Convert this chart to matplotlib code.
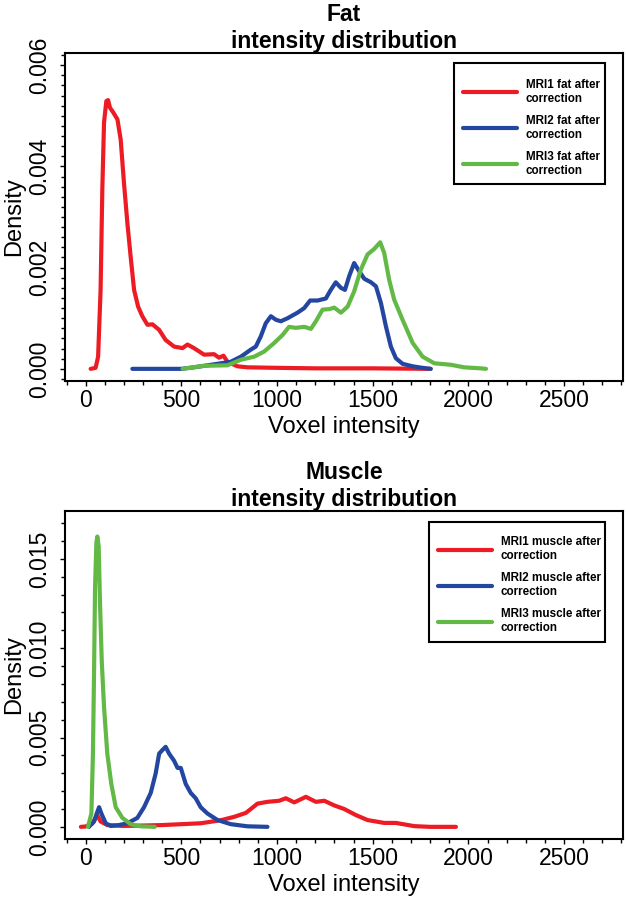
import matplotlib

matplotlib.use("Agg")
import matplotlib.pyplot as plt
from matplotlib.patches import Rectangle
from matplotlib.ticker import MultipleLocator, FormatStrFormatter

plt.rcParams["font.family"] = ["Liberation Sans", "DejaVu Sans"]

# colours used for MRI1 / MRI2 / MRI3
COLORS = ["#ED1C24", "#2346A0", "#62B946"]

# ---- fat ----
fat1_x = [26, 52, 65, 78, 87, 96, 108, 117, 127, 145, 166, 183, 200, 218, 235,
          253, 274, 296, 323, 349, 384, 418, 462, 506, 532, 566, 619, 671, 697,
          720, 741, 793, 846, 1000, 1200, 1500, 1800]
fat1_y = [0, 0.00002, 0.00024, 0.00156, 0.00354, 0.00487, 0.00529, 0.00531,
          0.00516, 0.00506, 0.00493, 0.00453, 0.00368, 0.00288, 0.00222,
          0.00156, 0.00123, 0.00104, 0.00087, 0.00088, 0.00077, 0.00057,
          0.00044, 0.00041, 0.00048, 0.00041, 0.00028, 0.00029, 0.00022,
          0.00026, 0.00014, 0.00005, 0.00003, 0.00002, 0.00001, 0.00001, 0.0]

fat2_x = [244, 500, 566, 620, 689, 758, 811, 863, 889, 915, 941, 968, 994, 1020,
          1055, 1107, 1142, 1173, 1212, 1255, 1281, 1307, 1334, 1355, 1377,
          1403, 1429, 1456, 1491, 1517, 1543, 1569, 1595, 1621, 1656, 1709,
          1760, 1804]
fat2_y = [0, 0, 0.00003, 0.00006, 0.0001, 0.00014, 0.00024, 0.00038, 0.00044,
          0.00064, 0.0009, 0.00104, 0.00097, 0.00094, 0.001, 0.00111, 0.0012,
          0.00135, 0.00135, 0.00139, 0.00156, 0.00171, 0.0016, 0.00156,
          0.00183, 0.00209, 0.00193, 0.00178, 0.00171, 0.00163, 0.0013,
          0.00084, 0.00044, 0.00021, 0.0001, 0.00005, 0.00002, 0.0]

fat3_x = [506, 560, 619, 741, 811, 880, 932, 985, 1029, 1063, 1098, 1142, 1177,
          1203, 1238, 1273, 1299, 1334, 1369, 1403, 1438, 1473, 1508, 1539,
          1560, 1586, 1612, 1656, 1709, 1761, 1822, 1909, 1978, 2065, 2092]
fat3_y = [0, 0.00003, 0.00006, 0.00007, 0.00018, 0.00024, 0.00034, 0.00051,
          0.00067, 0.00083, 0.00081, 0.00083, 0.00079, 0.00094, 0.00117,
          0.00118, 0.00121, 0.00111, 0.00123, 0.00153, 0.00196, 0.00226,
          0.00237, 0.0025, 0.00229, 0.00176, 0.00137, 0.00097, 0.00051,
          0.00024, 0.00011, 0.00008, 0.00003, 0.00001, 0]

# ---- muscle ----
mus1_x = [-25, 0, 35, 61, 78, 113, 200, 400, 500, 601, 706, 776, 837, 863, 898,
          950, 1011, 1046, 1090, 1151, 1203, 1247, 1299, 1351, 1412, 1473,
          1560, 1621, 1717, 1800, 1935]
mus1_y = [0, 0.00002, 0.0002, 0.00065, 0.0003, 0.0001, 0.00005, 0.0001,
          0.00015, 0.0002, 0.00037, 0.00056, 0.00078, 0.001, 0.0013, 0.0014,
          0.00146, 0.0016, 0.00137, 0.00168, 0.0014, 0.00146, 0.0012, 0.001,
          0.00066, 0.00038, 0.00022, 0.00022, 0.00004, 0.0, 0.0]

mus2_x = [17, 44, 58, 70, 82, 105, 131, 174, 218, 270, 305, 340, 366, 384, 401,
          418, 436, 462, 480, 497, 523, 549, 575, 601, 636, 689, 758, 846, 950]
mus2_y = [0, 0.0003, 0.00075, 0.0011, 0.00075, 0.0002, 0.00005, 0.0001, 0.0002,
          0.0005, 0.0011, 0.0019, 0.003, 0.0041, 0.0043, 0.00448, 0.0041,
          0.0037, 0.0033, 0.0033, 0.0024, 0.0019, 0.0016, 0.0011, 0.00075,
          0.00038, 0.00015, 0.00003, 0]

mus3_x = [12, 30, 38, 44, 49, 56, 61, 68, 75, 84, 96, 113, 134, 157, 192, 235,
          288, 361]
mus3_y = [0, 0.00075, 0.0041, 0.0088, 0.0134, 0.0159, 0.01625, 0.0157, 0.0125,
          0.0093, 0.0067, 0.0041, 0.0024, 0.0011, 0.0005, 0.00015, 0.00003, 0]

fat_labels = ["MRI1 fat after\ncorrection", "MRI2 fat after\ncorrection",
              "MRI3 fat after\ncorrection"]
mus_labels = ["MRI1 muscle after\ncorrection", "MRI2 muscle after\ncorrection",
              "MRI3 muscle after\ncorrection"]

x_ticks = [0, 500, 1000, 1500, 2000, 2500]


def r_lim(lo, hi):
    # R style 4% padding on each side
    d = (hi - lo) * 0.04
    return lo - d, hi + d


def draw_panel(ax, series, labels, title, ymax, ystep, yminor, box, leg_xy):
    for (xs, ys), lab, col in zip(series, labels, COLORS):
        ax.plot(xs, ys, color=col, lw=3, label=lab, solid_capstyle="round",
                solid_joinstyle="round")

    ax.set_xlim(*r_lim(0, 2700))
    ax.set_ylim(*r_lim(0, ymax))
    ax.set_xticks(x_ticks)
    n = int(round(ymax / ystep + 1e-9))
    ax.set_yticks([i * ystep for i in range(n + 1) if i * ystep <= ymax + 1e-12])
    ax.yaxis.set_major_formatter(FormatStrFormatter("%.3f"))
    ax.xaxis.set_minor_locator(MultipleLocator(100))
    ax.yaxis.set_minor_locator(MultipleLocator(yminor))

    ax.tick_params(which="both", direction="out", width=1, labelsize=16.5)
    ax.tick_params(which="major", length=3.5)
    ax.tick_params(which="minor", length=3)
    ax.tick_params(axis="x", pad=2)
    ax.tick_params(axis="y", pad=6.5, labelrotation=90)
    for lab in ax.get_yticklabels():
        lab.set_verticalalignment("center")

    for sp in ax.spines.values():
        sp.set_linewidth(1.5)

    ax.set_xlabel("Voxel intensity", fontsize=17, labelpad=3)
    ax.set_ylabel("Density", fontsize=17)
    ax.yaxis.set_label_coords(-0.072, 0.5)
    ax.set_title(title, fontsize=16.5, fontweight="bold", pad=3,
                 linespacing=1.2)

    # legend box (drawn separately so the padding can match the original)
    x0, y0, x1, y1 = box
    ax.add_patch(Rectangle((x0, y0), x1 - x0, y1 - y0, transform=ax.transAxes,
                           fill=True, facecolor="white", edgecolor="black",
                           lw=1.5, zorder=4))
    leg = ax.legend(loc="center left", bbox_to_anchor=leg_xy,
                    prop={"weight": "bold", "size": 8.4}, frameon=False,
                    handlelength=4.62, handletextpad=0.75, borderpad=0,
                    labelspacing=0.88, borderaxespad=0)
    leg.set_zorder(5)
    for h in leg.get_lines():
        h.set_linewidth(3)


fig = plt.figure(figsize=(6.26, 9), dpi=100)
ax1 = fig.add_axes([65 / 626, 1 - 381 / 900, 558 / 626, 328 / 900])
ax2 = fig.add_axes([65 / 626, 1 - 839 / 900, 558 / 626, 328 / 900])

draw_panel(ax1, [(fat1_x, fat1_y), (fat2_x, fat2_y), (fat3_x, fat3_y)],
           fat_labels, "Fat\nintensity distribution", 0.006, 0.002, 0.0002,
           (0.6971, 0.5997, 0.9686, 0.9695), (0.7138, 0.7713))
draw_panel(ax2, [(mus1_x, mus1_y), (mus2_x, mus2_y), (mus3_x, mus3_y)],
           mus_labels, "Muscle\nintensity distribution", 0.017, 0.005, 0.001,
           (0.6523, 0.6006, 0.9677, 0.9674), (0.669, 0.7735))

fig.savefig("out.png", dpi=100)
